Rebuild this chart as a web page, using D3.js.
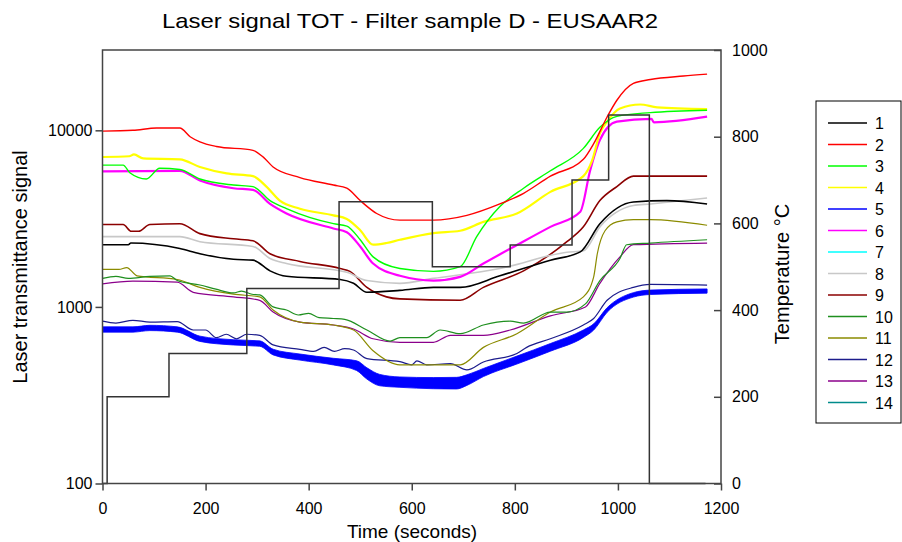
<!DOCTYPE html>
<html><head><meta charset="utf-8">
<script src="https://cdn.jsdelivr.net/npm/d3@7"></script>
<style>
body{margin:0;background:#fff;}
text{font-family:"Liberation Sans",Arial,sans-serif;fill:#000;}
</style></head>
<body><svg id="c" width="902" height="542"></svg>
<script>
// ---- data ----
const seriesNames = ["1","2","3","4","5","6","7","8","9","10","11","12","13","14"];
const seriesColors = ["#000000","#ff0000","#00ff00","#ffff00","#0000ff","#ff00ff","#00ffff","#c8c8c8","#8b0000","#1f8f1f","#8b8b00","#1c1c8c","#8b008b","#008b8b"];
const seriesWidths = [1.6,1.4,1.4,2.2,1.5,2.2,1.4,1.6,1.6,1.2,1.2,1.2,1.2,1.2];

const s1 = [[0,2250],[50,2250],[55,2300],[150,2140],[189,2000],[254,1860],[292,1840],[325,1600],[357,1490],[461,1430],[487,1360],[513,1210],[577,1240],[642,1290],[694,1290],[771,1500],[869,1840],[927,2050],[965,2960],[1030,3930],[1095,4000],[1173,3830]];
const s2 = [[0,9900],[59,10000],[105,10300],[150,10300],[170,9200],[189,8600],[221,8100],[292,7700],[312,7050],[331,6200],[383,5400],[448,4900],[474,4700],[500,4000],[532,3380],[577,3100],[642,3100],[707,3300],[771,3830],[817,4400],[869,5500],[933,6850],[953,8400],[979,11900],[998,14800],[1030,18450],[1063,19400],[1127,20300],[1173,20800]];
const s3 = [[0,6350],[40,6350],[53,5750],[85,5300],[111,6100],[150,6000],[189,5300],[254,4900],[292,4800],[325,4000],[357,3600],[448,2960],[474,2870],[500,2400],[525,1920],[577,1650],[642,1590],[694,1690],[726,2500],[771,3700],[817,4700],[869,5900],[933,7900],[965,10400],[998,12000],[1063,12600],[1173,13000]];
const s4 = [[0,7060],[52,7130],[61,7300],[79,6930],[150,6850],[189,6200],[241,5700],[292,5500],[318,4800],[344,4000],[383,3600],[448,3300],[474,3150],[500,2720],[525,2250],[551,2300],[577,2400],[642,2620],[694,2700],[739,3030],[804,3380],[869,4480],[933,5500],[950,6750],[965,9600],[979,11200],[1004,13300],[1043,14000],[1076,13500],[1173,13200]];
const s5 = [[0,745],[59,745],[92,760],[145,745],[189,660],[254,630],[305,620],[331,555],[383,520],[448,490],[493,465],[513,420],[538,385],[577,375],[642,370],[687,370],[707,385],[739,425],[804,500],[869,590],[933,705],[953,770],[979,960],[1030,1170],[1063,1210],[1173,1230]];
const s5Spread = [[0,1.035],[290,1.035],[460,1.045],[500,1.07],[520,1.08],[577,1.07],[700,1.08],[720,1.055],[933,1.05],[980,1.03],[1173,1.028]];
const s6 = [[0,5860],[150,5900],[189,5200],[254,4700],[292,4600],[325,3830],[357,3380],[448,2780],[474,2650],[500,2200],[525,1760],[577,1500],[642,1410],[694,1480],[739,1760],[804,2240],[869,2840],[927,3460],[946,5900],[965,8800],[998,11200],[1065,11600],[1070,11100],[1173,11950]];
const s7 = [];
const s8 = [[0,2500],[150,2500],[189,2340],[292,2200],[325,1880],[357,1760],[474,1570],[513,1410],[577,1360],[642,1450],[771,1650],[901,2040],[933,2080],[965,2840],[1030,3750],[1063,3830],[1173,4140]];
const s9 = [[0,2930],[40,2930],[56,2680],[70,2680],[92,2930],[150,2960],[189,2600],[254,2430],[292,2370],[325,2000],[383,1810],[461,1650],[480,1590],[513,1290],[551,1140],[577,1110],[694,1090],[739,1290],[817,1600],[901,2340],[933,2840],[965,4000],[998,4800],[1030,5500],[1173,5500]];
const s10 = [[0,1450],[26,1490],[50,1450],[92,1490],[131,1500],[145,1410],[189,1330],[220,1260],[254,1200],[270,1230],[290,1180],[305,1170],[331,1000],[357,960],[380,900],[400,920],[420,870],[448,860],[470,850],[513,740],[558,640],[577,670],[629,670],[655,740],[694,705],[739,790],[791,830],[817,810],[869,935],[901,935],[937,1040],[965,1410],[1004,1880],[1017,2250],[1063,2300],[1173,2400]];
const s11 = [[0,1630],[32,1630],[47,1670],[67,1500],[145,1430],[189,1290],[254,1180],[305,1140],[331,960],[383,820],[448,790],[487,740],[525,565],[577,470],[694,470],[739,590],[804,705],[869,935],[933,1140],[953,1480],[960,2000],[975,2700],[998,3030],[1030,3120],[1063,3120],[1173,2900]];
const s12 = [[0,830],[26,810],[59,840],[92,820],[145,825],[176,740],[200,740],[221,670],[240,700],[260,660],[280,700],[305,690],[331,610],[383,575],[410,560],[430,590],[450,560],[470,580],[487,570],[513,510],[577,490],[600,470],[610,495],[629,470],[675,477],[707,440],[739,488],[804,545],[823,590],[869,660],[933,790],[953,860],[979,1090],[1030,1290],[1063,1340],[1173,1330]];
const s13 = [[0,1350],[59,1400],[145,1380],[176,1210],[254,1140],[305,1090],[331,935],[383,820],[448,790],[487,750],[525,660],[577,630],[642,630],[675,690],[739,690],[791,740],[869,890],[937,1000],[965,1360],[1004,1920],[1030,2250],[1173,2300]];
const s14 = [];
const allSeries = [s1,s2,s3,s4,s5,s6,s7,s8,s9,s10,s11,s12,s13,s14];

// temperature program (step line)
const tempTimes = [0, 9, 129, 280, 459, 640, 791, 911, 982, 1061, 1170];
const tempValues = [0, 200, 300, 450, 650, 500, 550, 700, 850, 0];

const xTicks = [0,200,400,600,800,1000,1200];
const yTicks = [100,1000,10000];
const tTicks = [0,200,400,600,800,1000];

// ---- layout ----
const L = 102.5, R = 721, T = 50, B = 483.5;
const svg = d3.select("#c");
const x = d3.scaleLinear().domain([0,1200]).range([L,R]);
const y = d3.scaleLog().domain([100,28500]).range([B,T]);
const yT = d3.scaleLinear().domain([0,1000]).range([B,T]);
const axisColor = "#444";

const spreadAt = d3.scaleLinear().domain(s5Spread.map(d=>d[0])).range(s5Spread.map(d=>d[1])).clamp(true);

const line = d3.line().x(d=>x(d[0])).y(d=>y(d[1])).curve(d3.curveMonotoneX);
const drawOrder = [13,12,11,10,9,8,7,6,5,3,2,1,0,4];
drawOrder.forEach(i=>{
  const data = allSeries[i];
  if(!data.length) return;
  if(i===4){
    const band = d3.area().x(d=>x(d[0])).y0(d=>y(d[1]/spreadAt(d[0]))).y1(d=>y(d[1]*spreadAt(d[0]))).curve(d3.curveMonotoneX);
    svg.append("path").attr("d",band(data)).attr("fill",seriesColors[i]).attr("stroke",seriesColors[i]).attr("stroke-width",0.8);
  }
  svg.append("path").attr("d",line(data)).attr("fill","none")
    .attr("stroke",seriesColors[i]).attr("stroke-width",seriesWidths[i])
    .attr("stroke-linejoin","round");
});

// temperature step
const stepPts = [];
tempValues.forEach((v,i)=>{ stepPts.push([tempTimes[i],v]); stepPts.push([tempTimes[i+1],v]); });
svg.append("path").attr("d",d3.line().x(d=>x(d[0])).y(d=>yT(d[1])).curve(d3.curveStepAfter)(stepPts))
  .attr("fill","none").attr("stroke","#333").attr("stroke-width",1.5);

// frame
svg.append("rect").attr("x",L).attr("y",T).attr("width",R-L).attr("height",B-T)
  .attr("fill","none").attr("stroke",axisColor).attr("stroke-width",1.5);

function styleAxis(g){
  g.select(".domain").remove();
  g.selectAll(".tick line").attr("stroke",axisColor).attr("stroke-width",1.5);
  g.selectAll(".tick text").style("font-family","Liberation Sans, Arial, sans-serif").style("font-size","16px").attr("fill","#000");
}
svg.append("g").attr("transform",`translate(0,${B})`)
  .call(d3.axisBottom(x).tickValues(xTicks).tickSize(7).tickPadding(12).tickFormat(d3.format("d")))
  .call(styleAxis);
svg.append("g").attr("transform",`translate(${L},0)`)
  .call(d3.axisLeft(y).tickValues(yTicks).tickSize(7).tickPadding(3).tickFormat(d3.format("d")))
  .call(styleAxis);
svg.append("g").attr("transform",`translate(${R},0)`)
  .call(d3.axisRight(yT).tickValues(tTicks).tickSize(-7).tickPadding(11).tickFormat(d3.format("d")))
  .call(styleAxis);

// titles
svg.append("text").attr("x",410).attr("y",28).attr("text-anchor","middle")
  .attr("textLength",496).attr("lengthAdjust","spacingAndGlyphs")
  .style("font-size","21px").text("Laser signal TOT - Filter sample D - EUSAAR2");
svg.append("text").attr("x",412).attr("y",538).attr("text-anchor","middle")
  .style("font-size","19px").text("Time (seconds)");
svg.append("text").attr("transform","translate(27,267) rotate(-90)").attr("text-anchor","middle")
  .style("font-size","20px").text("Laser transmittance signal");
svg.append("text").attr("transform","translate(789,274) rotate(-90)").attr("text-anchor","middle")
  .style("font-size","20px").text("Temperature °C");

// legend
const lg = svg.append("g");
lg.append("rect").attr("x",816).attr("y",101).attr("width",85).attr("height",322)
  .attr("fill","#fff").attr("stroke","#000").attr("stroke-width",1);
seriesNames.forEach((n,i)=>{
  const yy = 123 + i*21.5;
  lg.append("line").attr("x1",828).attr("x2",867).attr("y1",yy).attr("y2",yy)
    .attr("stroke",seriesColors[i]).attr("stroke-width",1.5);
  lg.append("text").attr("x",875).attr("y",yy+6).style("font-size","16px").text(n);
});
</script></body></html>
